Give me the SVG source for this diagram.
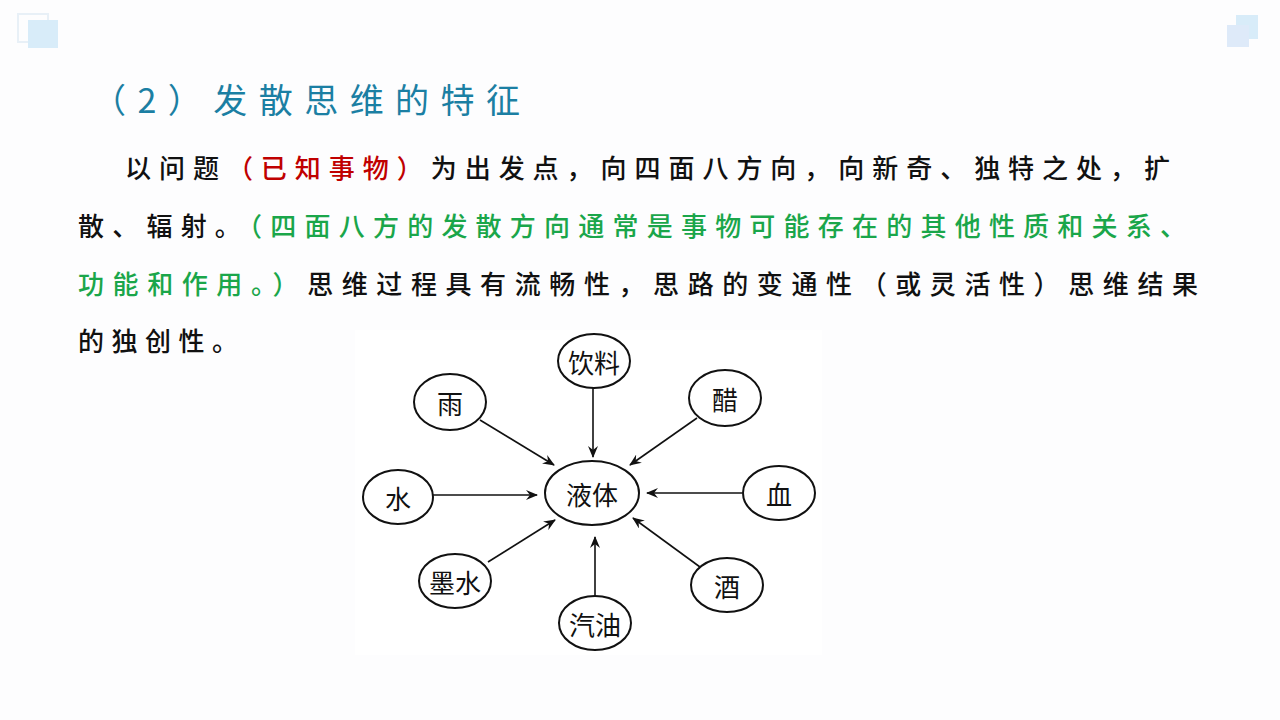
<svg xmlns="http://www.w3.org/2000/svg" width="1280" height="720" viewBox="0 0 1280 720">
<defs>
<style>
.t{font-family:"Noto Sans CJK SC","Noto Sans",sans-serif;font-size:26px;fill:#111;font-weight:500}
.n{fill:none;stroke:#111;stroke-width:2}
.l{font-family:"Noto Sans CJK SC",sans-serif;font-size:26px;fill:#111;text-anchor:middle;dominant-baseline:central}
.c line{stroke:#111;stroke-width:1.6;marker-end:url(#a)}
</style>
<marker id="a" viewBox="0 0 12 10" refX="11" refY="5" markerWidth="12" markerHeight="10" markerUnits="userSpaceOnUse" orient="auto"><path d="M0,0 L12,5 L0,10 L4,5 Z" fill="#111"/></marker>
</defs>
<rect width="1280" height="720" fill="#fdfdfe"/>
<g opacity="0.8">
<rect x="18" y="14" width="30" height="28" fill="none" stroke="#e4eef6" stroke-width="2"/>
<rect x="28" y="20" width="30" height="28" fill="#cfe8f8"/>
<rect x="1236" y="15" width="22" height="24" fill="#cfe8f8"/>
<rect x="1227" y="25" width="22" height="22" fill="#d7e6f8"/>
</g>
<text x="92" y="113" font-family="Noto Sans CJK SC,sans-serif" font-size="34" fill="#1b7fa3" textLength="428" lengthAdjust="spacing">（2）发散思维的特征</text>
<text class="t" x="125" y="178" textLength="1045" lengthAdjust="spacing">以问题<tspan fill="#c00000">（已知事物）</tspan>为出发点，向四面八方向，向新奇、独特之处，扩</text>
<text class="t" x="78" y="236" textLength="1108" lengthAdjust="spacing">散、辐射。<tspan fill="#1aa64a">（四面八方的发散方向通常是事物可能存在的其他性质和关系、</tspan></text>
<text class="t" x="78" y="294" textLength="1120" lengthAdjust="spacing"><tspan fill="#1aa64a">功能和作用。）</tspan>思维过程具有流畅性，思路的变通性（或灵活性）思维结果</text>
<text class="t" x="78" y="351" textLength="160" lengthAdjust="spacing">的独创性。</text>
<rect x="355" y="330" width="467" height="325" fill="#fff"/>
<g class="c" id="connectors">
<line x1="593" y1="387" x2="593" y2="457"/>
<line x1="480" y1="420" x2="554" y2="465"/>
<line x1="697" y1="418" x2="630" y2="465"/>
<line x1="433" y1="495" x2="537" y2="495"/>
<line x1="742" y1="493" x2="647" y2="493"/>
<line x1="488" y1="562" x2="555" y2="520"/>
<line x1="595" y1="595" x2="595" y2="537"/>
<line x1="700" y1="567" x2="633" y2="518"/>
</g>
<g id="center"><ellipse class="n" cx="592" cy="493" rx="47" ry="32"/><text class="l" x="592" y="493">液体</text></g>
<g id="n1"><ellipse class="n" cx="594" cy="361" rx="36" ry="27"/><text class="l" x="594" y="361">饮料</text></g>
<g id="n2"><ellipse class="n" cx="450" cy="402" rx="36" ry="28"/><text class="l" x="450" y="402">雨</text></g>
<g id="n3"><ellipse class="n" cx="725" cy="398" rx="36" ry="28"/><text class="l" x="725" y="398">醋</text></g>
<g id="n4"><ellipse class="n" cx="398" cy="497" rx="35" ry="27"/><text class="l" x="398" y="497">水</text></g>
<g id="n5"><ellipse class="n" cx="779" cy="493" rx="36" ry="27"/><text class="l" x="779" y="493">血</text></g>
<g id="n6"><ellipse class="n" cx="455" cy="581" rx="36" ry="27"/><text class="l" x="455" y="581">墨水</text></g>
<g id="n7"><ellipse class="n" cx="595" cy="623" rx="36" ry="27"/><text class="l" x="595" y="623">汽油</text></g>
<g id="n8"><ellipse class="n" cx="727" cy="585" rx="36" ry="27"/><text class="l" x="727" y="585">酒</text></g>
</svg>
